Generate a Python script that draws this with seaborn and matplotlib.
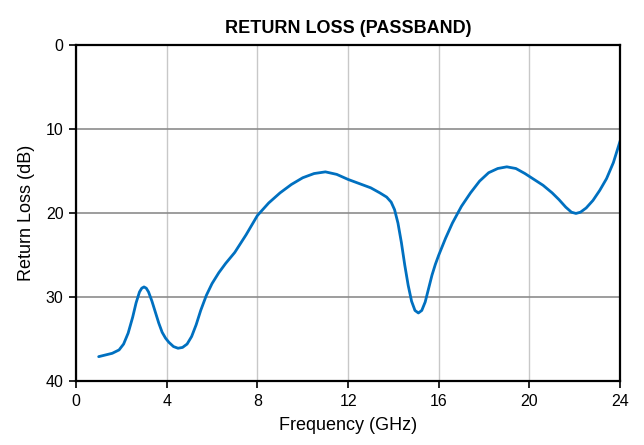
import matplotlib
matplotlib.use("Agg")
import matplotlib.pyplot as plt
import seaborn as sns
import pandas as pd

freq_ghz = [1.0, 1.3, 1.6, 1.9, 2.1, 2.3, 2.5, 2.65, 2.8, 2.9, 3.0, 3.1, 3.2, 3.35, 3.5, 3.65,
            3.8, 3.95, 4.1, 4.3, 4.5, 4.7, 4.9, 5.1, 5.3, 5.5, 5.75, 6.0, 6.3, 6.6, 7.0,
            7.5, 8.0, 8.5, 9.0, 9.5, 10.0, 10.5, 11.0, 11.5, 12.0, 12.5, 13.0, 13.4, 13.7,
            13.9, 14.05, 14.2, 14.35, 14.5, 14.65, 14.8, 14.95, 15.1, 15.25, 15.4, 15.55,
            15.7, 15.85, 16.0, 16.3, 16.6, 17.0, 17.4, 17.8, 18.2, 18.6, 19.0, 19.4, 19.8,
            20.2, 20.6, 21.0, 21.3, 21.6, 21.85, 22.05, 22.25, 22.5, 22.8, 23.1, 23.4, 23.7,
            24.0]
return_loss_db = [37.1, 36.9, 36.7, 36.3, 35.6, 34.3, 32.4, 30.7, 29.4, 28.95, 28.8, 28.95,
                  29.4, 30.5, 31.8, 33.1, 34.2, 34.9, 35.4, 35.9, 36.1, 36.0, 35.6, 34.7,
                  33.3, 31.6, 29.8, 28.4, 27.1, 26.0, 24.7, 22.6, 20.3, 18.8, 17.6, 16.6,
                  15.8, 15.3, 15.1, 15.4, 16.0, 16.5, 17.0, 17.6, 18.1, 18.7, 19.6, 21.2,
                  23.5, 26.2, 28.6, 30.5, 31.6, 31.9, 31.6, 30.6, 29.0, 27.4, 26.1, 25.0,
                  23.0, 21.2, 19.2, 17.6, 16.2, 15.2, 14.7, 14.5, 14.7, 15.3, 16.0, 16.7,
                  17.6, 18.4, 19.3, 19.9, 20.05, 19.9, 19.4, 18.5, 17.3, 15.9, 14.0, 11.4]

x_ticks = [0, 4, 8, 12, 16, 20, 24]
y_ticks = [0, 10, 20, 30, 40]

df = pd.DataFrame({"Frequency (GHz)": freq_ghz, "Return Loss (dB)": return_loss_db})

sns.set_style("white")
plt.rcParams['font.family'] = ['Liberation Sans', 'DejaVu Sans']
plt.rcParams['text.color'] = 'black'
plt.rcParams['axes.labelcolor'] = 'black'
plt.rcParams['xtick.color'] = 'black'
plt.rcParams['ytick.color'] = 'black'

fig = plt.figure(figsize=(6.44, 4.45), dpi=100)
ax = fig.add_axes([0.118, 0.1438, 0.845, 0.755])

sns.lineplot(data=df, x="Frequency (GHz)", y="Return Loss (dB)", ax=ax,
             color="#0070C0", linewidth=2.0, sort=False)
ax.lines[0].set_solid_joinstyle("round")

ax.set_xlim(0, 24)
ax.set_ylim(40, 0)
ax.set_xticks(x_ticks)
ax.set_yticks(y_ticks)
ax.set_xticklabels([str(t) for t in x_ticks], fontsize=11.5, color="black")
ax.set_yticklabels([str(t) for t in y_ticks], fontsize=11.5, color="black")

ax.xaxis.grid(True, color="#c8c8c8", linewidth=1.0)
ax.yaxis.grid(True, color="#8c8c8c", linewidth=1.2)
ax.set_axisbelow(True)

for s in ax.spines.values():
    s.set_visible(True)
    s.set_color("black")
    s.set_linewidth(1.6)

ax.tick_params(axis="both", which="major", direction="out", length=5, width=1.2,
               color="black", bottom=True, left=True, pad=4)

ax.set_xlabel("Frequency (GHz)", fontsize=13, labelpad=6, color="black")
ax.set_ylabel("Return Loss (dB)", fontsize=13, labelpad=8, color="black")
ax.set_title("RETURN LOSS (PASSBAND)", fontsize=13, fontweight="bold", pad=9, color="black")

fig.savefig("out.png", dpi=100)
